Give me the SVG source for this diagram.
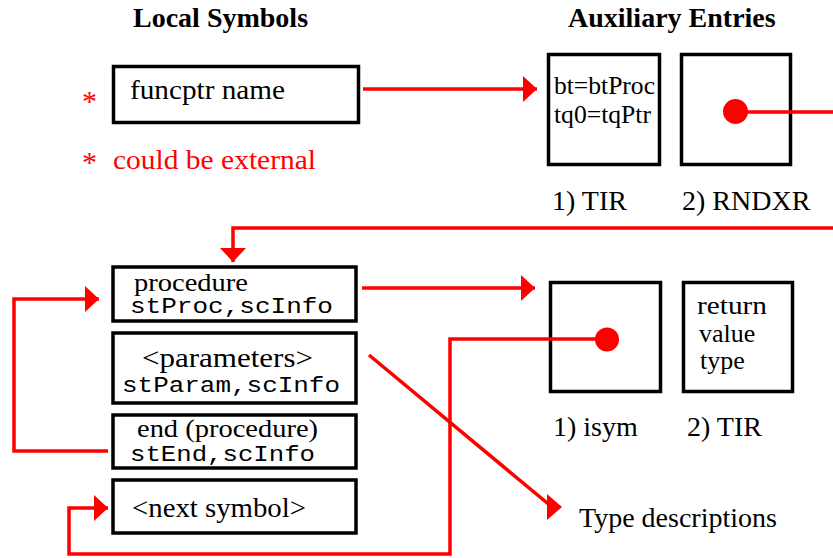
<svg xmlns="http://www.w3.org/2000/svg" width="833" height="558" viewBox="0 0 833 558">
<style>
.box{fill:#fff;stroke:#000;stroke-width:3.5}
.title{font-family:"Liberation Serif",serif;font-weight:bold;font-size:28px;fill:#000}
.t{font-family:"Liberation Serif",serif;font-size:28px;fill:#000}
.b{font-family:"Liberation Serif",serif;font-size:26px;fill:#000}
.s{font-family:"Liberation Serif",serif;font-size:25px;fill:#000}
.m{font-family:"Liberation Mono",monospace;font-size:22px;fill:#000}
.r{font-family:"Liberation Serif",serif;font-size:28px;fill:#f00}
.ast{font-family:"Liberation Serif",serif;font-size:30px;fill:#f00}
.c{fill:none;stroke:#f00;stroke-width:3.5}
.dot{fill:#f00}
</style>
<defs>
<marker id="ah" markerUnits="userSpaceOnUse" markerWidth="16" markerHeight="28" refX="14" refY="13" orient="auto" overflow="visible">
<path d="M0,0 L14,13 L0,26 z" fill="#f00"/>
</marker>
<marker id="ahr" markerUnits="userSpaceOnUse" markerWidth="16" markerHeight="28" refX="5" refY="13" orient="0" overflow="visible">
<path d="M0,0 L15,13 L0,26 z" fill="#f00"/>
</marker>
</defs>
<rect width="833" height="558" fill="#fff"/>
<text class="title" x="133" y="27">Local Symbols</text>
<text class="title" x="568" y="27">Auxiliary Entries</text>

<g id="funcptr">
<rect class="box" x="113.5" y="66.5" width="245" height="56"/>
<text class="t" x="130" y="99" textLength="155" lengthAdjust="spacingAndGlyphs">funcptr name</text>
</g>
<g id="note">
<text class="ast" x="82" y="111">*</text>
<text class="ast" x="82" y="172">*</text>
<text class="r" x="113" y="169" textLength="203" lengthAdjust="spacingAndGlyphs">could be external</text>
</g>
<g id="tir1">
<rect class="box" x="548.5" y="54.5" width="111" height="110"/>
<text class="s" x="554" y="94" textLength="101" lengthAdjust="spacingAndGlyphs">bt=btProc</text>
<text class="s" x="554" y="123" textLength="97" lengthAdjust="spacingAndGlyphs">tq0=tqPtr</text>
<text class="t" x="552" y="210">1) TIR</text>
</g>
<g id="rndxr">
<rect class="box" x="681.5" y="54.5" width="109" height="110"/>
<text class="t" x="682" y="210">2) RNDXR</text>
</g>
<g id="procedure">
<rect class="box" x="113" y="267" width="243" height="54"/>
<text class="b" x="134" y="291" textLength="114" lengthAdjust="spacingAndGlyphs">procedure</text>
<text class="m" x="130" y="313" textLength="203" lengthAdjust="spacingAndGlyphs">stProc,scInfo</text>
</g>
<g id="parameters">
<rect class="box" x="113" y="333" width="243" height="70"/>
<text class="t" x="142" y="367" textLength="171" lengthAdjust="spacingAndGlyphs">&lt;parameters&gt;</text>
<text class="m" x="122" y="392" textLength="218" lengthAdjust="spacingAndGlyphs">stParam,scInfo</text>
</g>
<g id="end">
<rect class="box" x="113" y="415" width="243" height="53"/>
<text class="b" x="137" y="437" textLength="181" lengthAdjust="spacingAndGlyphs">end (procedure)</text>
<text class="m" x="130" y="461" textLength="185" lengthAdjust="spacingAndGlyphs">stEnd,scInfo</text>
</g>
<g id="next">
<rect class="box" x="113" y="480" width="243" height="53"/>
<text class="t" x="132" y="517" textLength="174" lengthAdjust="spacingAndGlyphs">&lt;next symbol&gt;</text>
</g>
<g id="isym">
<rect class="box" x="550.5" y="282.5" width="110" height="109"/>
<text class="t" x="553" y="436">1) isym</text>
</g>
<g id="tir2">
<rect class="box" x="683.5" y="282.5" width="109" height="109"/>
<text class="b" x="697" y="314" textLength="70" lengthAdjust="spacingAndGlyphs">return</text>
<text class="b" x="699" y="342">value</text>
<text class="b" x="700" y="369">type</text>
<text class="t" x="687" y="436">2) TIR</text>
</g>
<g id="typedesc">
<text class="t" x="579" y="527">Type descriptions</text>
</g>

<g id="connectors">
<line class="c" x1="363" y1="89" x2="537" y2="89" marker-end="url(#ah)"/>
<line class="c" x1="735" y1="112" x2="833" y2="112"/>
<circle class="dot" cx="735.5" cy="111.5" r="12.5"/>
<polyline class="c" points="833,228 233,228 233,262" marker-end="url(#ah)"/>
<line class="c" x1="362" y1="288" x2="535" y2="288" marker-end="url(#ah)"/>
<polyline class="c" points="108,451 14,451 14,299 99,299" marker-end="url(#ah)"/>
<polyline class="c" points="607,339 450,339 450,554 69,554 69,508 108,508" marker-end="url(#ah)"/>
<circle class="dot" cx="607" cy="339.5" r="12"/>
<line class="c" x1="369" y1="355" x2="552" y2="507" marker-end="url(#ahr)"/>
</g>
</svg>
